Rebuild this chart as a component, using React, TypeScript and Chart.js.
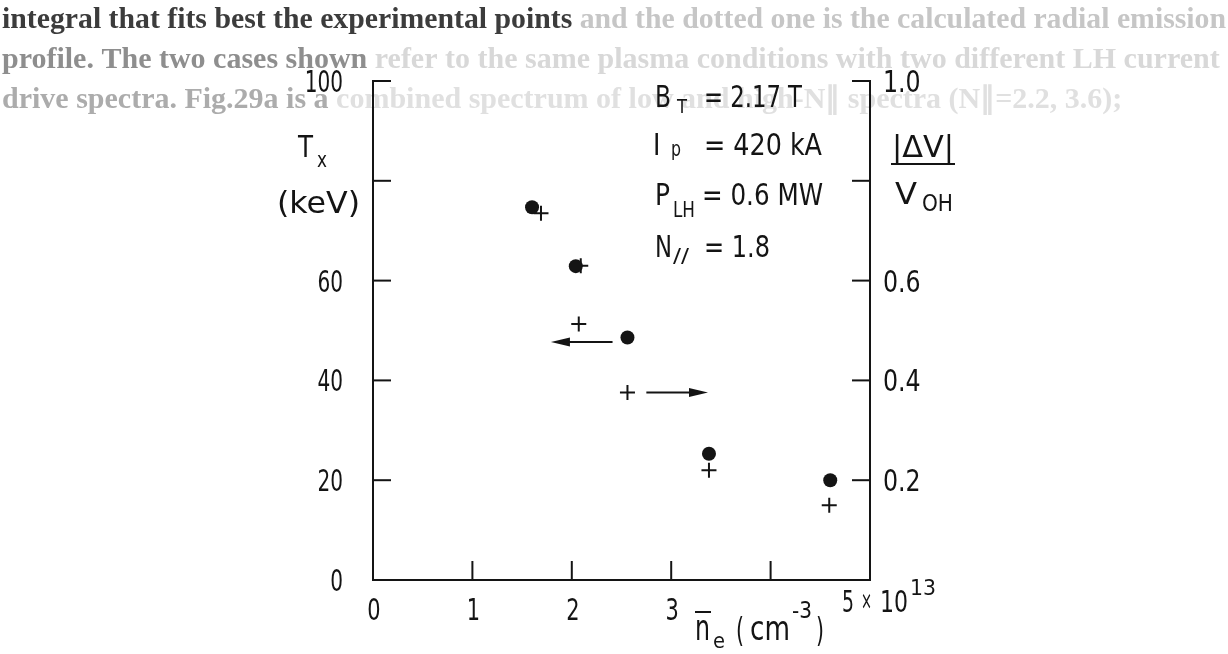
import React, { useEffect, useRef } from "react";
import { Chart, registerables } from "chart.js";

Chart.register(...registerables);

// ---- data ----
const circleDensity = [1.6, 2.04, 2.56, 3.38, 4.6]; // n_e (10^13 cm^-3)
const circleTx = [74.7, 62.9, 48.6, 25.3, 20.0]; // T_x (keV)
const crossDensity = [1.69, 2.09, 2.07, 2.56, 3.38, 4.59];
const crossDV = [0.735, 0.63, 0.513, 0.376, 0.22, 0.15]; // |ΔV|/V_OH

const xTickLabels = ["0", "1", "2", "3", "", ""];
const yTickLabels = ["0", "20", "40", "60", "", "100"];
const y2TickLabels = ["", "0.2", "0.4", "0.6", "", "1.0"];

// arrows indicating which axis each series belongs to
const arrowFrom = [2.41, 2.75];
const arrowTo = [1.79, 3.37];
const arrowLevel = [47.7, 0.376];
const arrowAxis = ["y", "y2"];

const captionLines: [string, string][][] = [
  [
    ["integral that fits best the experimental points", "#3c3c3c"],
    [" and the dotted one is the calculated radial emission", "#c6c6c6"],
  ],
  [
    ["profile. The two cases shown", "#8e8e8e"],
    [" refer to the same plasma conditions with two different LH current", "#d8d8d8"],
  ],
  [
    ["drive spectra. Fig.29a is a", "#acacac"],
    [" combined spectrum of low and high-N\u2225 spectra (N\u2225=2.2, 3.6);", "#e0e0e0"],
  ],
];

const FONT = '"DejaVu Sans Condensed", "DejaVu Sans", sans-serif';
const INK = "#141414";

function drawT(
  ctx: CanvasRenderingContext2D,
  text: string,
  x: number,
  y: number,
  size: number,
  opts: { sx?: number; w?: number; align?: "left" | "right" | "center" } = {}
) {
  if (!text) return 0;
  ctx.font = `${size}px ${FONT}`;
  const natural = ctx.measureText(text).width;
  const sx = opts.w ? opts.w / natural : opts.sx ?? 1;
  const width = natural * sx;
  let left = x;
  if (opts.align === "right") left = x - width;
  if (opts.align === "center") left = x - width / 2;
  ctx.save();
  ctx.translate(left, y);
  ctx.scale(sx, 1);
  ctx.textAlign = "left";
  ctx.fillText(text, 0, 0);
  ctx.restore();
  return width;
}

const decorPlugin = {
  id: "decor",
  beforeDraw(chart: any) {
    const ctx: CanvasRenderingContext2D = chart.ctx;
    ctx.save();
    ctx.textBaseline = "alphabetic";
    ctx.textAlign = "left";
    ctx.font = `bold 30px "Liberation Serif", serif`;
    captionLines.forEach((segs, i) => {
      const full = segs.map((s) => s[0]).join("");
      const w = ctx.measureText(full).width;
      const f = Math.min(1, 1224 / w);
      ctx.save();
      ctx.translate(2, 28 + i * 40);
      ctx.scale(f, 1);
      let cx = 0;
      segs.forEach(([t, c]) => {
        ctx.fillStyle = c;
        ctx.fillText(t, cx, 0);
        cx += ctx.measureText(t).width;
      });
      ctx.restore();
    });
    ctx.restore();
  },
  afterDraw(chart: any) {
    const ctx: CanvasRenderingContext2D = chart.ctx;
    const xs = chart.scales.x;
    const ys = chart.scales.y;
    const y2s = chart.scales.y2;
    const area = chart.chartArea;
    ctx.save();
    ctx.strokeStyle = INK;
    ctx.fillStyle = INK;
    ctx.lineWidth = 2;
    ctx.textBaseline = "alphabetic";

    // inward tick marks + labels from the library's scales
    xs.ticks.forEach((t: any, i: number) => {
      const px = xs.getPixelForValue(t.value);
      if (t.value > 0 && t.value < 5) {
        ctx.beginPath();
        ctx.moveTo(px, area.bottom);
        ctx.lineTo(px, area.bottom - 19);
        ctx.stroke();
      }
      drawT(ctx, xTickLabels[i] || "", px + 1, area.bottom + 40, 31, { sx: 0.75, align: "center" });
    });
    ys.ticks.forEach((t: any, i: number) => {
      const py = ys.getPixelForValue(t.value);
      if (t.value > 0) {
        ctx.beginPath();
        ctx.moveTo(area.left, py);
        ctx.lineTo(area.left + 18, py);
        ctx.stroke();
      }
      drawT(ctx, yTickLabels[i] || "", area.left - 30, py + 11, 31, { sx: 0.72, align: "right" });
    });
    y2s.ticks.forEach((t: any, i: number) => {
      const py = y2s.getPixelForValue(t.value);
      if (t.value > 0) {
        ctx.beginPath();
        ctx.moveTo(area.right, py);
        ctx.lineTo(area.right - 18, py);
        ctx.stroke();
      }
      drawT(ctx, y2TickLabels[i] || "", area.right + 13, py + 11, 31, { sx: 0.85 });
    });

    // arrows
    arrowFrom.forEach((from, i) => {
      const sc = arrowAxis[i] === "y" ? ys : y2s;
      const py = sc.getPixelForValue(arrowLevel[i]);
      const x1 = xs.getPixelForValue(from);
      const x2 = xs.getPixelForValue(arrowTo[i]);
      const dir = Math.sign(x2 - x1);
      ctx.beginPath();
      ctx.moveTo(x1, py);
      ctx.lineTo(x2 - dir * 12, py);
      ctx.stroke();
      ctx.beginPath();
      ctx.moveTo(x2, py);
      ctx.lineTo(x2 - dir * 19, py - 4.5);
      ctx.lineTo(x2 - dir * 19, py + 4.5);
      ctx.closePath();
      ctx.fill();
    });

    // left axis title
    drawT(ctx, "T", 298, 157, 31, { w: 15 });
    drawT(ctx, "x", 317, 167, 21, { w: 10 });
    drawT(ctx, "(keV)", 277, 213, 31, { w: 83 });
    // right axis title
    drawT(ctx, "|\u0394V|", 892, 157, 31, { w: 62 });
    ctx.beginPath();
    ctx.moveTo(891, 164);
    ctx.lineTo(955, 164);
    ctx.stroke();
    drawT(ctx, "V", 895, 204, 31, { w: 22 });
    drawT(ctx, "OH", 922, 211, 23, { w: 31 });
    // parameters
    drawT(ctx, "B", 655, 107, 31, { w: 16 });
    drawT(ctx, "T", 677, 113, 20, { w: 10 });
    drawT(ctx, "= 2.17 T", 704, 107, 31, { w: 98 });
    drawT(ctx, "I", 653, 155, 31, { sx: 0.9 });
    drawT(ctx, "p", 671, 156, 22, { w: 10 });
    drawT(ctx, "= 420 kA", 704, 155, 31, { w: 118 });
    drawT(ctx, "P", 655, 205, 31, { w: 15 });
    drawT(ctx, "LH", 673, 217, 21, { w: 22 });
    drawT(ctx, "= 0.6 MW", 702, 205, 31, { w: 121 });
    drawT(ctx, "N", 655, 257, 31, { w: 17 });
    drawT(ctx, "//", 673, 262, 20, { w: 16 });
    drawT(ctx, "= 1.8", 704, 257, 31, { w: 66 });
    // x axis title
    drawT(ctx, "n", 695, 640, 36, { w: 15 });
    ctx.beginPath();
    ctx.moveTo(695, 612);
    ctx.lineTo(711, 612);
    ctx.stroke();
    drawT(ctx, "e", 713, 648, 22, { w: 12 });
    drawT(ctx, "(", 736, 642, 33, { w: 8 });
    drawT(ctx, "cm", 750, 640, 33, { w: 40 });
    drawT(ctx, "-3", 792, 618, 23, { w: 20 });
    drawT(ctx, ")", 816, 642, 33, { w: 8 });
    // 5 x 10^13
    drawT(ctx, "5", 842, 612, 31, { w: 12 });
    drawT(ctx, "\u00d7", 861, 609, 24, { w: 11 });
    drawT(ctx, "10", 880, 612, 31, { w: 28 });
    drawT(ctx, "13", 910, 595, 22, { w: 26 });
    ctx.restore();
  },
};

export default function App() {
  const ref = useRef<HTMLCanvasElement | null>(null);
  useEffect(() => {
    if (!ref.current) return;
    const chart = new Chart(ref.current, {
      type: "scatter",
      data: {
        datasets: [
          {
            label: "T_x",
            data: circleDensity.map((x, i) => ({ x, y: circleTx[i] })),
            yAxisID: "y",
            pointStyle: "circle",
            pointRadius: 7,
            backgroundColor: INK,
            borderColor: INK,
            borderWidth: 0,
          },
          {
            label: "|ΔV|/V_OH",
            data: crossDensity.map((x, i) => ({ x, y: crossDV[i] })),
            yAxisID: "y2",
            pointStyle: "cross",
            pointRadius: 7.5,
            borderColor: INK,
            backgroundColor: INK,
            borderWidth: 2,
          },
        ],
      },
      options: {
        responsive: false,
        animation: false,
        events: [],
        layout: { padding: { top: 81, left: 0, right: 0, bottom: 0 } },
        plugins: { legend: { display: false }, tooltip: { enabled: false } },
        scales: {
          x: {
            type: "linear",
            min: 0,
            max: 5,
            grid: { display: false, drawTicks: false },
            border: { display: true, color: INK, width: 2 },
            ticks: { stepSize: 1, display: false },
            afterFit: (s: any) => {
              s.height = 74;
            },
          },
          y: {
            type: "linear",
            position: "left",
            min: 0,
            max: 100,
            grid: { display: false, drawTicks: false },
            border: { display: true, color: INK, width: 2 },
            ticks: { stepSize: 20, display: false },
            afterFit: (s: any) => {
              s.width = 373;
            },
          },
          y2: {
            type: "linear",
            position: "right",
            min: 0,
            max: 1,
            grid: { display: false, drawTicks: false },
            border: { display: true, color: INK, width: 2 },
            ticks: { stepSize: 0.2, display: false },
            afterFit: (s: any) => {
              s.width = 358;
            },
          },
        },
      },
      plugins: [decorPlugin],
    });
    return () => chart.destroy();
  }, []);
  return (
    <div style={{ position: "fixed", left: 0, top: 0, width: 1228, height: 654, background: "#fff" }}>
      <canvas ref={ref} width={1228} height={654} style={{ width: 1228, height: 654 }} />
    </div>
  );
}
